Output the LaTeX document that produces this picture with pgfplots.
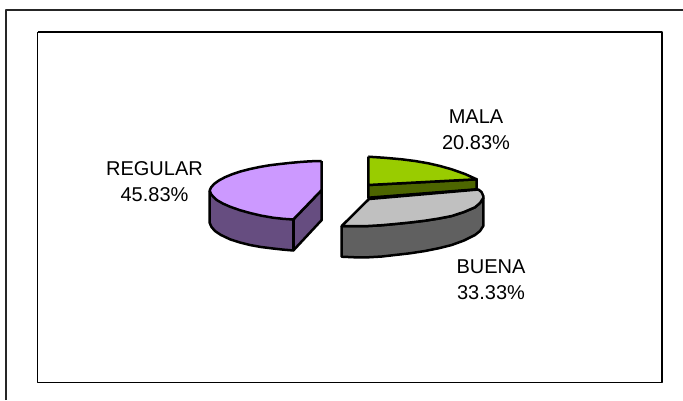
\documentclass[border=0pt]{standalone}
\usepackage{fontspec}
\setmainfont{Liberation Sans}
\usepackage{pgfplots}
\pgfplotsset{compat=1.18}
\definecolor{purT}{HTML}{CC99FF}
\definecolor{purS}{HTML}{664D80}
\definecolor{grnT}{HTML}{99CC00}
\definecolor{grnS}{HTML}{4D6600}
\definecolor{gryT}{HTML}{C0C0C0}
\definecolor{gryS}{HTML}{606060}
\tikzset{lbl/.style={font=\fontsize{20}{22}\selectfont,anchor=center,text=black,inner sep=0pt}}
\begin{document}
\begin{tikzpicture}
\begin{axis}[
  x=1pt,y=1pt,scale only axis,
  xmin=0,xmax=683,ymin=0,ymax=400,y dir=reverse,
  axis lines=none,clip=true,
  every axis plot/.append style={line join=round,mark=none}
]
\coordinate (A) at (axis cs:0,0);
\coordinate (B) at (axis cs:683,400);
% frames
\addplot[draw=black!85!white,line width=2pt] coordinates {(6,400)(6,10)(683,10)};
\addplot[draw=black,line width=1.3pt] coordinates {(37.5,32)(662,32)(662,382.5)(37.5,382.5)(37.5,32)};
% REGULAR
\addplot[fill=purS,draw=black,line width=2.5pt] coordinates {(209.7,190.5)(209.7,223)(211.5,227)(215,231)(221,235)(230,239.3)(240,242.5)(250,245)(261,247)(273,248.5)(283,249.6)(293.3,250.5)(321.7,220)(321.7,190)(293.3,219.5)(209.7,190.5)};
\addplot[fill=purT,draw=black,line width=2.5pt] coordinates {(321.7,161)(310,161.3)(300,162)(290,162.9)(280,164)(270,165.2)(260,166.9)(250,169)(240,171.6)(232,174.3)(225,177.2)(219,180.4)(214,184)(211,187.5)(209.7,190.5)(211,194)(213.5,197)(217,200.2)(223,203.6)(230,206.7)(240,210.2)(250,213)(261,215.6)(273,217.7)(283,218.8)(293.3,219.5)(321.7,190)(321.7,161)};
\addplot[draw=black,line width=2.5pt] coordinates {(293.3,219.5)(293.3,250.5)};
% MALA
\addplot[fill=grnS,draw=black,line width=2.5pt] coordinates {(368.3,185)(476.7,179.3)(476.7,189.3)(368.3,197.7)(368.3,185)};
\addplot[fill=grnT,draw=black,line width=2.5pt] coordinates {(368.3,156.7)(385,157.8)(401.7,159.3)(415,161)(428.3,163.3)(440,166)(451.7,169.3)(465,174)(476.7,179.3)(368.3,185)(368.3,156.7)};
% BUENA
\addplot[fill=gryS,draw=black,line width=2.5pt] coordinates {(341.7,226)(341.7,256.7)(355,257.3)(368.3,257.3)(382,256.5)(395,255)(410,253.3)(425,251)(439,248.2)(451.7,245)(464,240.5)(475,235)(480,231)(483.3,226)(483.3,198)(480,203)(475,207.3)(464,212)(451.7,216)(439,218.5)(425,220.7)(410,222.5)(395,224)(382,225.2)(368.3,226)(355,226.2)(341.7,226)};
\addplot[fill=gryT,draw=black,line width=2.5pt] coordinates {(369,199)(478.3,189.5)(481.5,192)(483.3,196)(483.3,198)(480,203)(475,207.3)(464,212)(451.7,216)(439,218.5)(425,220.7)(410,222.5)(395,224)(382,225.2)(368.3,226)(355,226.2)(341.7,226)(369,199)};
\node[lbl] at (axis cs:476,117) {MALA};
\node[lbl] at (axis cs:476,143) {20.83\%};
\node[lbl] at (axis cs:154.5,169) {REGULAR};
\node[lbl] at (axis cs:154.5,195) {45.83\%};
\node[lbl] at (axis cs:491,267) {BUENA};
\node[lbl] at (axis cs:491,293) {33.33\%};
\end{axis}
\pgfresetboundingbox
\path[use as bounding box] (A) rectangle (B);
\end{tikzpicture}
\end{document}
